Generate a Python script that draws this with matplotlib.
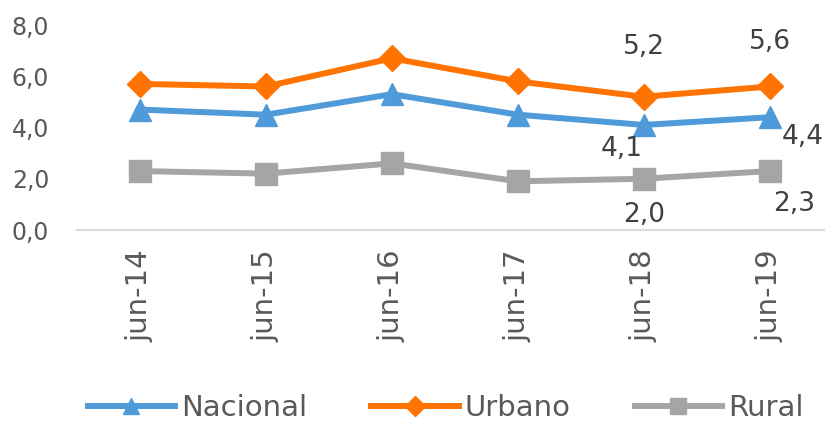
import matplotlib
matplotlib.use("Agg")
import matplotlib.pyplot as plt

periods = ["jun-14", "jun-15", "jun-16", "jun-17", "jun-18", "jun-19"]
nacional = [4.7, 4.5, 5.3, 4.5, 4.1, 4.4]
urbano = [5.7, 5.6, 6.7, 5.8, 5.2, 5.6]
rural = [2.3, 2.2, 2.6, 1.9, 2.0, 2.3]
yticks = [0, 2, 4, 6, 8]

BLUE, ORANGE, GREY, TXT = "#4f9bda", "#ff7300", "#a5a5a5", "#595959"
plt.rcParams["font.family"] = ["DejaVu Sans"]

fig = plt.figure(figsize=(8.25, 4.23), dpi=100)
ax = fig.add_axes([77 / 825, 193 / 423, (825 - 77) / 825, 205 / 423])
x = range(len(periods))
ax.plot(x, nacional, color=BLUE, lw=4.3, marker="^", ms=16, label="Nacional")
ax.plot(x, urbano, color=ORANGE, lw=4.3, marker="D", ms=13, label="Urbano")
ax.plot(x, rural, color=GREY, lw=4.3, marker="s", ms=16, label="Rural")

ax.set_xlim(-0.5, 5.44)
ax.set_ylim(0, 8)
ax.set_yticks(yticks)
fmt = lambda v: f"{v:.1f}".replace(".", ",")
ax.set_yticklabels([fmt(v) for v in yticks], fontsize=17, color=TXT)
ax.set_xticks(list(x))
ax.set_xticklabels(periods, rotation=90, fontsize=21, color=TXT)
ax.tick_params(length=0, pad=14)
ax.tick_params(axis="y", pad=20)
for s in ("top", "right", "left"):
    ax.spines[s].set_visible(False)
ax.spines["bottom"].set_color("#d9d9d9")
ax.spines["bottom"].set_linewidth(1.5)

lab = dict(fontsize=19, color="#404040", ha="center", va="center",
           textcoords="offset points")
ax.annotate(fmt(urbano[4]), (4, urbano[4]), xytext=(0, 36), **lab)
ax.annotate(fmt(urbano[5]), (5, urbano[5]), xytext=(0, 32), **lab)
ax.annotate(fmt(nacional[4]), (4, nacional[4]), xytext=(-16, -17), **lab)
ax.annotate(fmt(nacional[5]), (5, nacional[5]), xytext=(24, -14), **lab)
ax.annotate(fmt(rural[4]), (4, rural[4]), xytext=(0, -26), **lab)
ax.annotate(fmt(rural[5]), (5, rural[5]), xytext=(18, -24), **lab)

fig.legend(loc="center", bbox_to_anchor=(0.54, 0.035), ncol=3, frameon=False,
           fontsize=21, labelcolor=TXT, handlelength=3.0, columnspacing=2.2,
           handletextpad=0.2, markerscale=0.75)
fig.savefig("out.png", dpi=100)
